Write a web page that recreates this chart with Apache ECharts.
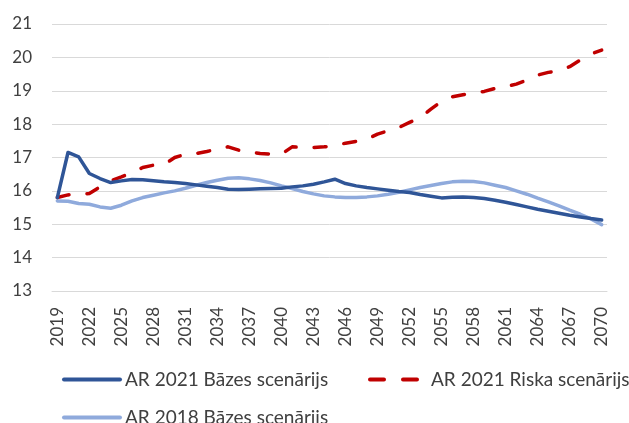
<!DOCTYPE html>
<html>
<head>
<meta charset="utf-8">
<script src="https://cdn.jsdelivr.net/npm/echarts@6/dist/echarts.min.js"></script>
<style>
  html, body { margin: 0; padding: 0; background: #fff; }
  #chart { width: 629px; height: 423px; }
</style>
</head>
<body>
<div id="chart"></div>
<script>
// Years 2019–2070
const years = [];
for (let y = 2019; y <= 2070; y++) years.push(String(y));

const seriesNames = ['AR 2021 Bāzes scenārijs', 'AR 2021 Riska scenārijs', 'AR 2018 Bāzes scenārijs'];

const base2021 = [
  15.80, 17.15, 17.02, 16.52, 16.37, 16.25, 16.30, 16.34, 16.33, 16.30,
  16.27, 16.25, 16.22, 16.18, 16.14, 16.10, 16.05, 16.04, 16.05, 16.06,
  16.07, 16.08, 16.12, 16.15, 16.20, 16.27, 16.35, 16.22, 16.15, 16.10,
  16.06, 16.02, 15.98, 15.95, 15.89, 15.84, 15.79, 15.81, 15.82, 15.80,
  15.77, 15.72, 15.66, 15.59, 15.52, 15.45, 15.39, 15.33, 15.27, 15.22,
  15.17, 15.13
];

const risk2021 = [
  15.80, 15.88, 15.90, 15.92, 16.12, 16.30, 16.42, 16.55, 16.70, 16.77,
  16.79, 17.00, 17.10, 17.12, 17.18, 17.25, 17.32, 17.22, 17.17, 17.12,
  17.10, 17.10, 17.32, 17.30, 17.30, 17.32, 17.35, 17.43, 17.48, 17.55,
  17.70, 17.80, 17.90, 18.05, 18.20, 18.45, 18.68, 18.82, 18.88, 18.92,
  18.98, 19.07, 19.12, 19.20, 19.32, 19.47, 19.55, 19.60, 19.72, 19.92,
  20.10, 20.22
];

const base2018 = [
  15.70, 15.69, 15.62, 15.60, 15.52, 15.48, 15.57, 15.70, 15.80, 15.87,
  15.94, 16.00, 16.08, 16.17, 16.25, 16.32, 16.38, 16.39, 16.36, 16.31,
  16.24, 16.15, 16.07, 15.98, 15.91, 15.85, 15.82, 15.80, 15.80, 15.82,
  15.85, 15.90, 15.96, 16.03, 16.10, 16.16, 16.22, 16.27, 16.29, 16.28,
  16.24, 16.17, 16.10, 16.00, 15.90, 15.78, 15.67, 15.55, 15.42, 15.30,
  15.16, 14.99
];

const colors = ['#2F5597', '#C00000', '#8FAADC'];
const font = 'Lato, "Open Sans", sans-serif';

// one legend block per series, each placed on its own
function legendAt(name, left, top, lineType) {
  return {
    data: [name], left: left, top: top, padding: 0,
    itemWidth: 56, itemHeight: 4,
    itemStyle: { opacity: 0 },
    lineStyle: { width: 4, cap: 'round', type: lineType || 'solid' },
    textStyle: { fontSize: 19, color: '#404040', fontFamily: font }
  };
}

const chart = echarts.init(document.getElementById('chart'), null, { renderer: 'canvas' });

chart.setOption({
  animation: false,
  backgroundColor: '#ffffff',
  textStyle: { fontFamily: font },
  grid: { left: 52, right: 22, top: 24, bottom: 132, containLabel: false },
  legend: [
    legendAt(seriesNames[0], 62, 370),
    legendAt(seriesNames[1], 368, 370, [14, 19]),
    legendAt(seriesNames[2], 62, 408)
  ],
  xAxis: {
    type: 'category',
    data: years,
    boundaryGap: true,
    axisLine: { show: true, lineStyle: { color: '#D9D9D9', width: 1 } },
    axisTick: { show: false },
    axisLabel: {
      interval: 2,
      rotate: 90,
      margin: 16,
      fontSize: 17,
      color: '#404040',
      fontFamily: font
    },
    splitLine: { show: false }
  },
  yAxis: {
    type: 'value',
    min: 13, max: 21, interval: 1,
    axisLine: { show: false },
    axisTick: { show: false },
    axisLabel: { fontSize: 17, color: '#404040', margin: 20, fontFamily: font },
    splitLine: { lineStyle: { color: '#D9D9D9', width: 1 } }
  },
  series: [
    {
      name: seriesNames[0], type: 'line', data: base2021,
      symbol: 'none', color: colors[0],
      lineStyle: { width: 3.5, color: colors[0], cap: 'round', join: 'round' },
      z: 3
    },
    {
      name: seriesNames[1], type: 'line', data: risk2021,
      symbol: 'none', color: colors[1],
      lineStyle: { width: 3.5, color: colors[1], type: [12, 18], cap: 'round', join: 'round' },
      z: 2
    },
    {
      name: seriesNames[2], type: 'line', data: base2018,
      symbol: 'none', color: colors[2],
      lineStyle: { width: 3.5, color: colors[2], cap: 'round', join: 'round' },
      z: 1
    }
  ]
});
</script>
</body>
</html>
